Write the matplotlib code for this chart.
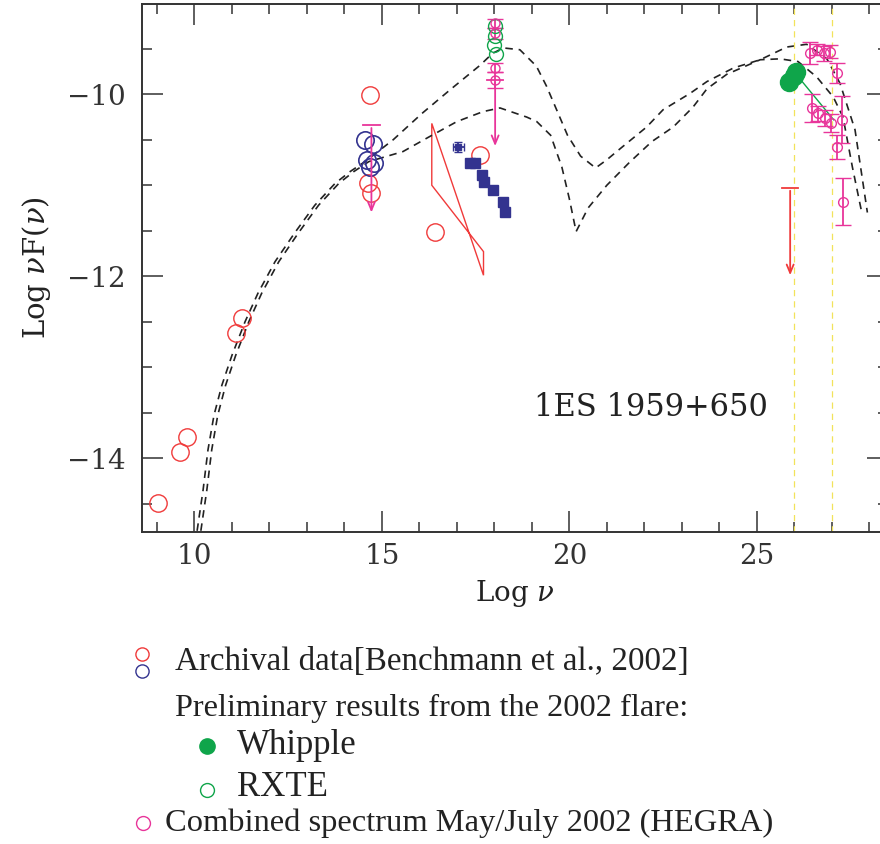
import matplotlib
matplotlib.use("Agg")
import matplotlib.pyplot as plt
from matplotlib.patches import Polygon
from matplotlib.ticker import MultipleLocator

plt.rcParams["font.family"] = "DejaVu Serif"
plt.rcParams["mathtext.fontset"] = "dejavuserif"

# --- archival data (red / blue open circles) ---
arch_red_x = [9.03, 9.61, 9.81, 11.11, 11.26, 14.68, 14.62, 14.70, 16.42, 17.62]
arch_red_y = [-14.49, -13.93, -13.77, -12.63, -12.46, -10.01, -10.98, -11.09, -11.51, -10.67]
arch_blue_x = [14.55, 14.75, 14.60, 14.78, 14.68]
arch_blue_y = [-10.50, -10.55, -10.72, -10.75, -10.80]

# x-ray spectrum (blue filled squares) and the cross point
xray_sq_x = [17.35, 17.48, 17.66, 17.71, 17.97, 18.24, 18.28]
xray_sq_y = [-10.76, -10.76, -10.89, -10.96, -11.05, -11.18, -11.29]
xray_cross = (17.04, -10.58)

# archival x-ray bow-tie: top-left, bottom-right, top-right, bottom-left
bowtie_x = [16.33, 17.71, 17.71, 16.33]
bowtie_y = [-10.32, -11.99, -11.73, -11.00]

# upper limits: (x, y_top, y_tip)
ul_opt = (14.72, -10.34, -11.33)
ul_xray = (18.02, -9.84, -10.60)
ul_tev = (25.89, -11.03, -12.02)

# 2002 flare, magenta points at log nu = 18
flare_x_x = [18.02, 18.02, 18.02, 18.02]
flare_x_y = [-9.22, -9.33, -9.71, -9.84]
flare_x_err = [0.05, 0.06, 0.05, 0.09]

# RXTE (green open circles)
rxte_x = [17.98, 18.04, 18.02, 18.02]
rxte_y = [-9.46, -9.56, -9.25, -9.36]

# Whipple (green filled)
whipple_x = [25.87, 26.00, 26.05]
whipple_y = [-9.86, -9.80, -9.75]
whipple_fit_x = [26.15, 27.05]
whipple_fit_y = [-9.83, -10.28]

# HEGRA combined spectrum (magenta)
hegra_x = [26.42, 26.60, 26.78, 26.96, 27.13, 26.48, 26.64, 26.82, 26.98, 27.27, 27.13, 27.31]
hegra_y = [-9.55, -9.51, -9.55, -9.53, -9.77, -10.15, -10.21, -10.26, -10.32, -10.28, -10.58, -11.18]
hegra_err = [0.12, 0.06, 0.08, 0.07, 0.11, 0.15, 0.08, 0.09, 0.10, 0.26, 0.13, 0.26]

# SSC model curves (dashed)
model_left_x = [10.07, 10.23, 10.36, 10.52, 10.73, 11.00, 11.35, 11.69, 12.15, 12.68,
                13.21, 13.75, 14.15, 14.55]
model_left_y = [-14.80, -14.35, -13.91, -13.53, -13.20, -12.87, -12.50, -12.19, -11.84,
                -11.52, -11.22, -10.98, -10.85, -10.74]
model_hi_x = [15.30, 16.07, 16.82, 17.62, 17.95, 18.24, 18.68, 19.12, 19.39, 19.66, 19.95,
              20.30, 20.70, 21.00, 21.35, 22.06, 22.50, 23.22, 23.67, 24.38, 25.09, 25.80,
              26.33, 26.87, 27.22, 27.62, 27.95]
model_hi_y = [-10.50, -10.21, -9.95, -9.68, -9.55, -9.49, -9.51, -9.69, -9.91, -10.17, -10.45,
              -10.68, -10.81, -10.72, -10.60, -10.36, -10.17, -9.99, -9.86, -9.71, -9.62,
              -9.48, -9.45, -9.61, -9.88, -10.39, -11.30]
model_lo_x = [15.56, 16.25, 17.00, 17.70, 18.15, 18.86, 19.13, 19.50, 19.80, 20.00, 20.18,
              20.50, 21.00, 21.60, 22.20, 22.77, 23.30, 23.67, 24.20, 25.09, 25.62, 26.10,
              26.60, 27.04, 27.30, 27.55, 27.80]
model_lo_y = [-10.63, -10.47, -10.30, -10.19, -10.15, -10.25, -10.30, -10.45, -10.80, -11.15,
              -11.51, -11.25, -11.00, -10.75, -10.52, -10.36, -10.14, -9.94, -9.78, -9.62,
              -9.61, -9.64, -9.81, -10.03, -10.25, -10.80, -11.30]

hegra_band = [26.0, 27.0]

RED = "#f03a3a"
BLUE = "#33338f"
MAG = "#e8359a"
GREEN = "#0fa54a"

W, H = 880, 844
fig = plt.figure(figsize=(W / 100, H / 100), dpi=100)
ax = fig.add_axes([142 / W, (H - 531.7) / H, (888 - 142) / W, (531.7 - 4) / H])

lw_model = 1.2
ax.plot(model_left_x + model_hi_x, model_left_y + model_hi_y, color="#222222",
        lw=lw_model, ls=(0, (4.5, 3.5)))
ax.plot([x + 0.1 for x in model_left_x] + model_lo_x, model_left_y + model_lo_y,
        color="#222222", lw=lw_model, ls=(0, (4.5, 3.5)))

for xv in hegra_band:
    ax.axvline(xv, color="#f2e35a", lw=0.9, ls=(0, (5, 4)))

ax.plot(arch_red_x, arch_red_y, "o", mfc="none", mec=RED, ms=12.5, mew=1.0)
ax.plot(arch_blue_x, arch_blue_y, "o", mfc="none", mec=BLUE, ms=12.5, mew=1.2)
ax.plot(xray_sq_x, xray_sq_y, "s", color=BLUE, ms=6.5)
ax.errorbar([xray_cross[0]], [xray_cross[1]], xerr=0.15, yerr=0.06, fmt="s", color=BLUE,
            ms=4.5, capsize=3, lw=1.3)

ax.add_patch(Polygon(list(zip(bowtie_x, bowtie_y)), closed=True, fill=False,
                     ec=RED, lw=1.0))

# upper limits with open arrow heads
for (xv, ytop, ytip), col in [(ul_opt, MAG), (ul_xray, MAG), (ul_tev, RED)]:
    ax.annotate("", xy=(xv, ytip), xytext=(xv, ytop),
                arrowprops=dict(arrowstyle="->,head_length=0.6,head_width=0.25",
                                color=col, lw=1.3))
    ax.plot([xv - 0.22, xv + 0.22], [ytop, ytop], color=col, lw=1.3)

ax.errorbar(flare_x_x, flare_x_y, yerr=flare_x_err, fmt="o", mfc="none", mec=MAG,
            color=MAG, ms=6.5, capsize=5.5, lw=1.3)
ax.plot(rxte_x, rxte_y, "o", mfc="none", mec=GREEN, ms=10, mew=1.0)

ax.plot(whipple_fit_x, whipple_fit_y, color=GREEN, lw=1.0)
ax.plot(whipple_x, whipple_y, "o", color=GREEN, ms=13)

ax.errorbar(hegra_x, hegra_y, yerr=hegra_err, fmt="o", mfc="none", mec=MAG, color=MAG,
            ms=7, capsize=6, lw=1.3)

ax.text(0.682, 0.236, "1ES 1959+650", transform=ax.transAxes, fontsize=22,
        ha="center", va="center", color="#222222")

ax.set_xlim(8.6, 28.5)
ax.set_ylim(-14.81, -9.007)
ax.xaxis.set_major_locator(MultipleLocator(5))
ax.xaxis.set_minor_locator(MultipleLocator(1))
ax.yaxis.set_major_locator(MultipleLocator(2))
ax.yaxis.set_minor_locator(MultipleLocator(0.5))
ax.tick_params(which="both", direction="in", top=True, right=True, colors="#333333",
               labelsize=20, width=1.1)
ax.tick_params(which="major", length=15)
ax.tick_params(which="minor", length=7.5)
ax.tick_params(axis="x", pad=8)
ax.tick_params(axis="y", pad=12)
for sp in ax.spines.values():
    sp.set_linewidth(1.4)
    sp.set_color("#333333")
ax.set_xlabel(r"Log $\nu$", fontsize=20, labelpad=6, color="#222222")
ax.set_ylabel(r"Log $\nu$F($\nu$)", fontsize=21, labelpad=10, color="#222222")

# legend below the plot, drawn in pixel space
lg = fig.add_axes([0, 0, 1, 1], facecolor="none")
lg.set_xlim(0, W)
lg.set_ylim(H, 0)
lg.axis("off")
lg.plot([142], [654], "o", mfc="none", mec=RED, ms=9.5, mew=1.0)
lg.plot([142], [671], "o", mfc="none", mec=BLUE, ms=9.5, mew=1.0)
lg.plot([207], [746], "o", color=GREEN, ms=11)
lg.plot([207], [790], "o", mfc="none", mec=GREEN, ms=10, mew=1.0)
lg.plot([143], [823], "o", mfc="none", mec=MAG, ms=10, mew=1.0)
serif = "Liberation Serif"
lg.text(175, 662, "Archival data[Benchmann et al., 2002]", family=serif, fontsize=23.8,
        va="center", color="#222222")
lg.text(175, 708, "Preliminary results from the 2002 flare:", family=serif, fontsize=23.3,
        va="center", color="#222222")
lg.text(237, 745, "Whipple", family=serif, fontsize=25, va="center", color="#222222")
lg.text(237, 788, "RXTE", family=serif, fontsize=25, va="center", color="#222222")
lg.text(165, 823, "Combined spectrum May/July 2002 (HEGRA)", family=serif, fontsize=23.4,
        va="center", color="#222222")

fig.savefig("out.png", dpi=100)
